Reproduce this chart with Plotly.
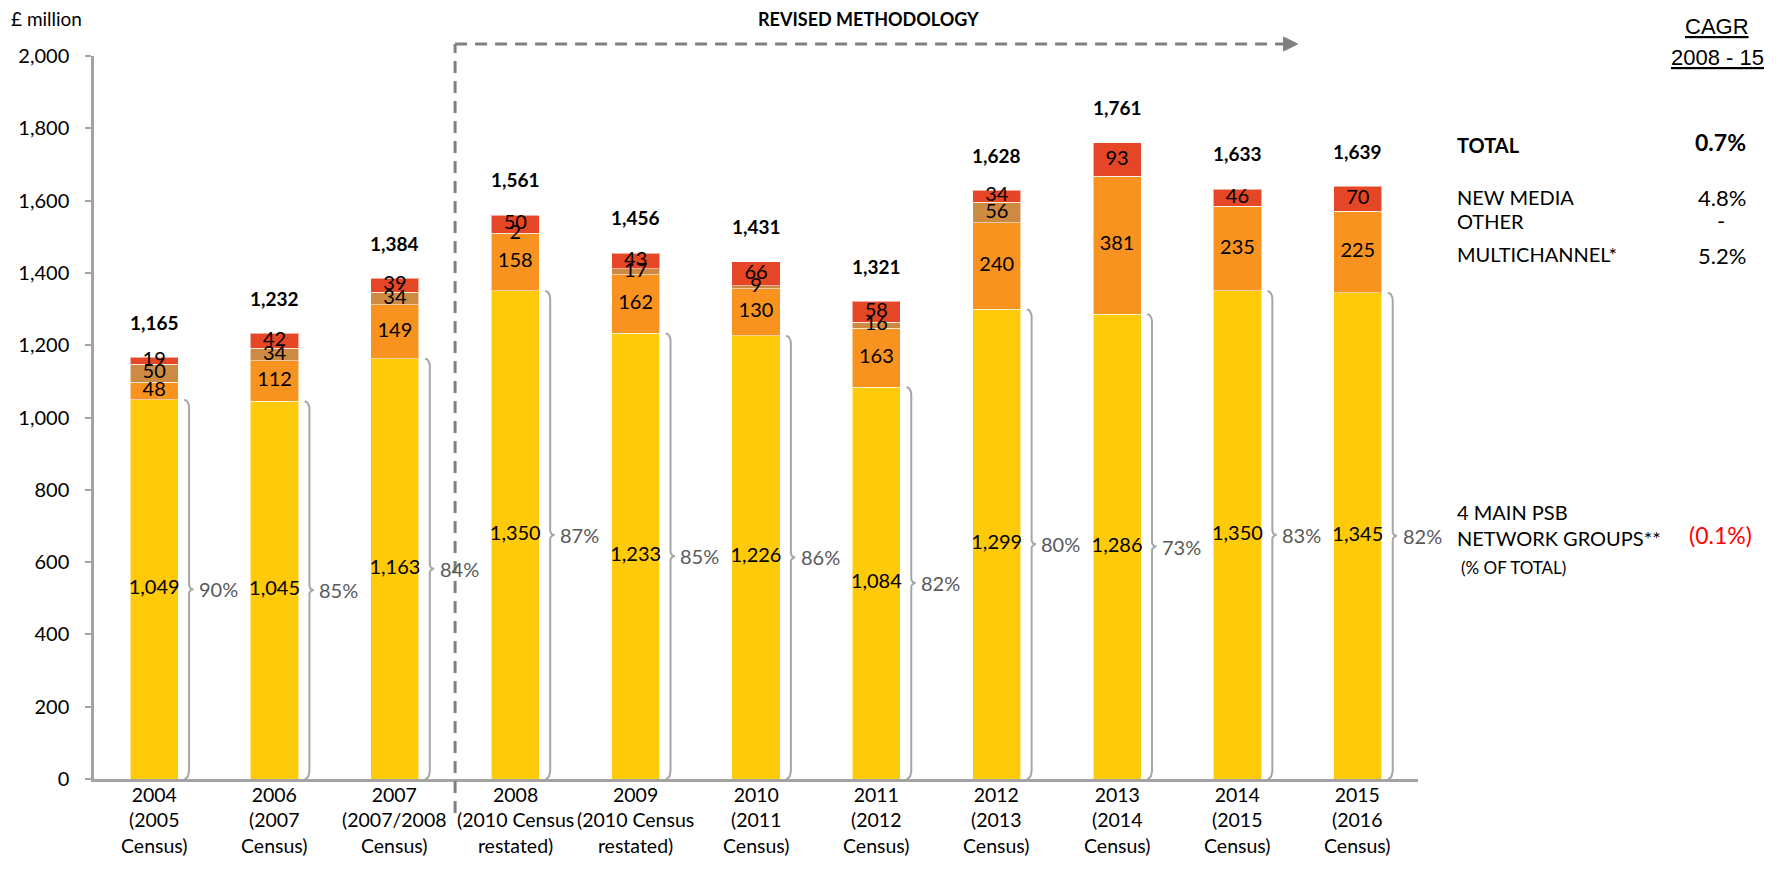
import numpy as np
import plotly.graph_objects as go

# ---- data (£ million) ----
periods = [
    "2004<br>(2005<br>Census)",
    "2006<br>(2007<br>Census)",
    "2007<br>(2007/2008<br>Census)",
    "2008<br>(2010 Census<br>restated)",
    "2009<br>(2010 Census<br>restated)",
    "2010<br>(2011<br>Census)",
    "2011<br>(2012<br>Census)",
    "2012<br>(2013<br>Census)",
    "2013<br>(2014<br>Census)",
    "2014<br>(2015<br>Census)",
    "2015<br>(2016<br>Census)",
]
psb_groups = [1049, 1045, 1163, 1350, 1233, 1226, 1084, 1299, 1286, 1350, 1345]
multichannel = [48, 112, 149, 158, 162, 130, 163, 240, 381, 235, 225]
other = [50, 34, 34, 2, 17, 9, 16, 56, 0, 0, 0]
new_media = [19, 42, 39, 50, 43, 66, 58, 34, 93, 46, 70]
totals = [1165, 1232, 1384, 1561, 1456, 1431, 1321, 1628, 1761, 1633, 1639]
psb_share = [90, 85, 84, 87, 85, 86, 82, 80, 73, 83, 82]

y_ticks = [0, 200, 400, 600, 800, 1000, 1200, 1400, 1600, 1800, 2000]

cagr_rows = ["NEW MEDIA", "OTHER", "MULTICHANNEL*"]
cagr_vals = ["4.8%", "-", "5.2%"]
cagr_total = "0.7%"
cagr_psb = "(0.1%)"

# ---- styling ----
YELLOW = "#FECA0A"
ORANGE = "#F7931E"
TAN = "#CD8A42"
RED = "#E54625"
FONT = "Lato"
AXIS_GREY = "#A3A3A3"

x = np.arange(len(periods))
BAR_W = 0.4

# plot area in pixels (used to place free text around the axes)
PL, PR, PT, PB = 94, 1418, 56, 779


def px(xp):
    return (xp - PL) / (PR - PL)


def py(yp):
    return (PB - yp) / (PB - PT)


fig = go.Figure()

series = [
    ("4 main PSB network groups", psb_groups, YELLOW),
    ("Multichannel", multichannel, ORANGE),
    ("Other", other, TAN),
    ("New media", new_media, RED),
]
for name, vals, col in series:
    fig.add_trace(go.Bar(
        x=x, y=vals, width=BAR_W, name=name,
        marker=dict(color=col, line=dict(color="rgba(255,255,255,0.55)", width=1)),
        hoverinfo="skip",
    ))

# segment value labels, centred in each segment
base = np.zeros(len(periods))
for name, vals, col in series:
    v = np.array(vals, dtype=float)
    mids = base + v / 2
    keep = v > 0
    fig.add_trace(go.Scatter(
        x=x[keep], y=mids[keep], mode="text",
        text=[f"{int(a):,}" for a in v[keep]],
        textposition="middle center",
        textfont=dict(family=FONT, size=20, color="#000000"),
        hoverinfo="skip",
    ))
    base = base + v

# curly braces spanning the PSB segment
bx, by = [], []
t = np.linspace(0, np.pi / 2, 8)
ry, rm = 22.0, 11.0
for i, top in enumerate(psb_groups):
    x0, x1, x2 = i + 0.25, i + 0.29, i + 0.325
    mid = top / 2
    dx = x1 - x0
    seg_x = list(x0 + dx * np.sin(t))
    seg_y = list(top - ry + ry * np.cos(t))
    seg_x += list(x2 - (x2 - x1) * np.cos(t))
    seg_y += list(mid + rm - rm * np.sin(t))
    seg_x += list(x2 - (x2 - x1) * np.cos(t[::-1]))
    seg_y += list(mid - rm + rm * np.sin(t[::-1]))
    seg_x += list(x0 + dx * np.sin(t[::-1]))
    seg_y += list(ry - ry * np.cos(t[::-1]))
    bx += seg_x + [None]
    by += seg_y + [None]
fig.add_trace(go.Scatter(
    x=bx, y=by, mode="lines",
    line=dict(color="#A6A6A6", width=2),
    hoverinfo="skip",
))

annotations = []
# category labels under the axis
for i, lbl in enumerate(periods):
    annotations.append(dict(
        x=i, y=py(781), xref="x", yref="paper", text=lbl,
        showarrow=False, xanchor="center", yanchor="top", align="center",
        font=dict(family=FONT, size=19.5, color="#000000"),
    ))
# totals above bars
for i, tot in enumerate(totals):
    annotations.append(dict(
        x=i, y=tot, xref="x", yref="y", text=f"<b>{tot:,}</b>",
        showarrow=False, yshift=35, yanchor="middle",
        font=dict(family=FONT, size=19, color="#000000"),
    ))
# PSB share of total
for i, (top, pct) in enumerate(zip(psb_groups, psb_share)):
    annotations.append(dict(
        x=i + 0.355, y=top / 2, xref="x", yref="y", text=f"{pct}%",
        showarrow=False, xanchor="left", yanchor="middle",
        font=dict(family=FONT, size=20, color="#595959"),
    ))

# axis title
annotations.append(dict(
    x=px(9), y=py(19), xref="paper", yref="paper", text="£ million",
    showarrow=False, xanchor="left", yanchor="middle",
    font=dict(family=FONT, size=19, color="#000000"),
))
# revised methodology header
annotations.append(dict(
    x=px(868), y=py(19), xref="paper", yref="paper",
    text="<b>REVISED METHODOLOGY</b>",
    showarrow=False, xanchor="center", yanchor="middle",
    font=dict(family=FONT, size=18, color="#000000"),
))

# CAGR panel
for txt, yp in [("CAGR", 27), ("2008 - 15", 58)]:
    annotations.append(dict(
        x=px(1717), y=py(yp), xref="paper", yref="paper", text=txt,
        showarrow=False, xanchor="center", yanchor="middle",
        font=dict(family="Liberation Sans", size=22, color="#000000",
                  lineposition="under"),
    ))
annotations.append(dict(
    x=px(1455), y=py(145), xref="paper", yref="paper", text="<b>TOTAL</b>",
    showarrow=False, xanchor="left", yanchor="middle",
    font=dict(family=FONT, size=20, color="#000000"),
))
annotations.append(dict(
    x=px(1748), y=py(142), xref="paper", yref="paper", text=f"<b>{cagr_total}</b>",
    showarrow=False, xanchor="right", yanchor="middle",
    font=dict(family=FONT, size=23, color="#000000"),
))
for lbl, val, yp in zip(cagr_rows, cagr_vals, [197, 221, 254]):
    annotations.append(dict(
        x=px(1455), y=py(yp), xref="paper", yref="paper", text=lbl,
        showarrow=False, xanchor="left", yanchor="middle",
        font=dict(family=FONT, size=20, color="#000000"),
    ))
    if val == "-":
        annotations.append(dict(
            x=px(1721), y=py(yp), xref="paper", yref="paper", text=val,
            showarrow=False, xanchor="center", yanchor="middle",
            font=dict(family=FONT, size=22, color="#000000"),
        ))
    else:
        annotations.append(dict(
            x=px(1748), y=py(yp + 1), xref="paper", yref="paper", text=val,
            showarrow=False, xanchor="right", yanchor="middle",
            font=dict(family=FONT, size=22, color="#000000"),
        ))
for txt, yp, xl, sz in [("4 MAIN PSB", 512, 1455, 20),
                        ("NETWORK GROUPS**", 538, 1455, 20),
                        ("(% OF TOTAL)", 567, 1459, 17)]:
    annotations.append(dict(
        x=px(xl), y=py(yp), xref="paper", yref="paper", text=txt,
        showarrow=False, xanchor="left", yanchor="middle",
        font=dict(family=FONT, size=sz, color="#000000"),
    ))
annotations.append(dict(
    x=px(1720), y=py(535), xref="paper", yref="paper", text=cagr_psb,
    showarrow=False, xanchor="center", yanchor="middle",
    font=dict(family=FONT, size=23, color="#FF0000"),
))

# dashed bracket marking the methodology change, with arrow head
split_x, arrow_end = 2.5, 9.5
top_y, bottom_y = py(44), py(813)
dash_line = dict(color="#808080", width=3, dash="12px,8px")
shapes = [
    dict(type="line", xref="x", yref="paper", x0=split_x, x1=split_x,
         y0=bottom_y, y1=top_y, line=dash_line),
    dict(type="line", xref="x", yref="paper", x0=split_x, x1=arrow_end - 0.08,
         y0=top_y, y1=top_y, line=dash_line),
]
hw = 7 / (PB - PT)
hl = 14 / ((PR - PL) / len(periods))
shapes.append(dict(
    type="path", xref="x", yref="paper",
    path=(f"M {arrow_end - hl} {top_y + hw} L {arrow_end} {top_y} "
          f"L {arrow_end - hl} {top_y - hw} Z"),
    fillcolor="#808080", line=dict(color="#808080", width=1),
))

fig.update_layout(
    width=1784, height=870,
    margin=dict(l=PL, r=1784 - PR, t=PT, b=870 - PB, pad=0, autoexpand=False),
    barmode="stack", bargap=0.6,
    showlegend=False,
    plot_bgcolor="white", paper_bgcolor="white",
    font=dict(family=FONT, size=18, color="#000000"),
    annotations=annotations, shapes=shapes,
    hovermode=False,
)
fig.update_xaxes(
    range=[-0.5, len(periods) - 0.5],
    showticklabels=False, ticks="",
    showgrid=False, zeroline=False, automargin=False,
    showline=True, linecolor=AXIS_GREY, linewidth=2.5,
)
fig.update_yaxes(
    range=[0, 2000], tickvals=y_ticks, tickformat=",",
    showgrid=False, zeroline=False, automargin=False,
    showline=True, linecolor=AXIS_GREY, linewidth=2.5,
    ticks="outside", ticklen=6, tickcolor=AXIS_GREY, tickwidth=2,
    ticklabelstandoff=12,
    tickfont=dict(family=FONT, size=20, color="#000000"),
)

fig.write_html("out.html")
